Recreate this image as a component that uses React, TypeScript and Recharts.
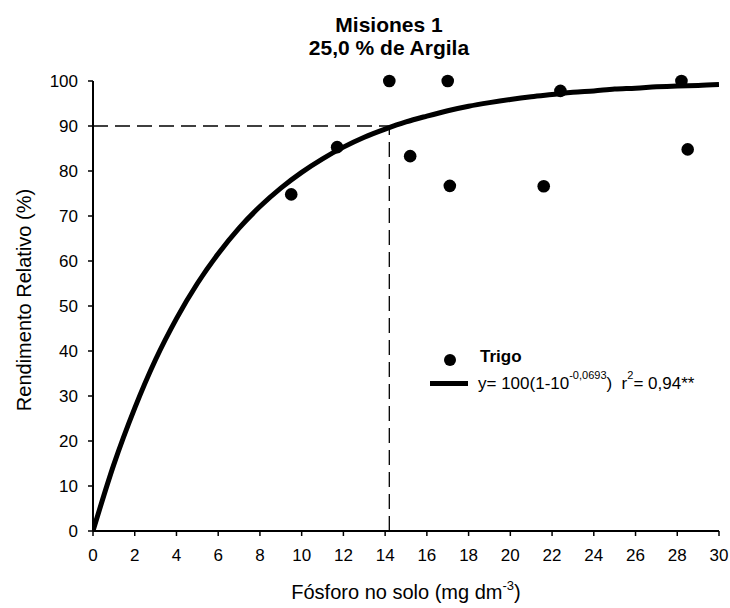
import React from "react";
import {
  ComposedChart,
  Line,
  Scatter,
  XAxis,
  YAxis,
  ReferenceLine,
} from "recharts";

// observed points (Trigo)
const trigoX = [9.5, 11.7, 14.2, 17.0, 15.2, 17.1, 21.6, 22.4, 28.2, 28.5];
const trigoY = [74.8, 85.3, 100, 100, 83.3, 76.7, 76.6, 97.8, 100, 84.8];

// fitted curve
const curveX = [0, 1, 2, 3, 4, 5, 6, 7, 8, 9, 10, 11, 12, 13, 14, 15, 16, 17, 18, 19, 20, 21, 22, 23, 24, 25, 26, 27, 28, 29, 30];
const curveY = [0, 14.8, 27.3, 38.1, 47.2, 55, 61.6, 67.3, 72.1, 76.2, 79.7, 82.7, 85.3, 87.5, 89.3, 90.9, 92.2, 93.4, 94.4, 95.2, 95.9, 96.5, 97, 97.5, 97.8, 98.2, 98.4, 98.7, 98.9, 99, 99.2];

const xTicks = [0, 2, 4, 6, 8, 10, 12, 14, 16, 18, 20, 22, 24, 26, 28, 30];
const yTicks = [0, 10, 20, 30, 40, 50, 60, 70, 80, 90, 100];

const critX = 14.2;
const critY = 90;

const FONT = "'Liberation Sans', Arial, sans-serif";

const trigo = trigoX.map((x, i) => ({ x, y: trigoY[i] }));
const curve = curveX.map((x, i) => ({ x, y: curveY[i] }));

const XLabel = () => (
  <text x={406} y={599} textAnchor="middle" fontSize={20} fontFamily={FONT} fill="#000">
    Fósforo no solo (mg dm
    <tspan fontSize={13} dy={-9}>-3</tspan>
    <tspan dy={9}>)</tspan>
  </text>
);

const YLabel = () => (
  <text
    x={31}
    y={300}
    transform="rotate(-90, 31, 300)"
    textAnchor="middle"
    fontSize={20}
    fontFamily={FONT}
    fill="#000"
  >
    Rendimento Relativo (%)
  </text>
);

function ChartLegend() {
  const sup = { fontSize: 11, verticalAlign: "baseline", position: "relative" as const, top: -10, lineHeight: 0 };
  return (
    <div style={{ position: "absolute", left: 0, top: 0, fontFamily: FONT, fontSize: 17, color: "#000" }}>
      <span
        style={{
          position: "absolute",
          left: 444,
          top: 354,
          width: 12,
          height: 12,
          borderRadius: 6,
          background: "#000",
        }}
      />
      <span style={{ position: "absolute", left: 480, top: 348, lineHeight: "18px", fontWeight: "bold", whiteSpace: "nowrap" }}>
        Trigo
      </span>
      <span
        style={{
          position: "absolute",
          left: 430,
          top: 381,
          width: 38,
          height: 5,
          background: "#000",
        }}
      />
      <span style={{ position: "absolute", left: 478, top: 375, lineHeight: "18px", whiteSpace: "nowrap" }}>
        y= 100(1-10<span style={sup}>-0,0693</span>)&nbsp; r<span style={sup}>2</span>= 0,94**
      </span>
    </div>
  );
}

export default function App() {
  return (
    <div
      style={{
        position: "fixed",
        left: 0,
        top: 0,
        width: 730,
        height: 608,
        background: "#fff",
        fontFamily: FONT,
      }}
    >
      <div
        style={{
          position: "absolute",
          top: 13,
          left: 239,
          width: 300,
          textAlign: "center",
          fontWeight: "bold",
          fontSize: 21,
          lineHeight: "23px",
        }}
      >
        Misiones 1
        <br />
        25,0 % de Argila
      </div>
      <ComposedChart
        width={730}
        height={608}
        margin={{ top: 81, right: 11, left: 28, bottom: 47 }}
      >
        <XAxis
          type="number"
          dataKey="x"
          domain={[0, 30]}
          ticks={xTicks}
          interval={0}
          allowDataOverflow
          tick={{ fontSize: 17, fill: "#000", fontFamily: FONT }}
          tickLine={{ stroke: "#000", strokeWidth: 1.5 }}
          tickSize={5}
          tickMargin={13}
          axisLine={{ stroke: "#000", strokeWidth: 2 }}
          height={30}
          label={{ content: XLabel }}
        />
        <YAxis
          type="number"
          dataKey="y"
          domain={[0, 100]}
          ticks={yTicks}
          interval={0}
          tick={{ fontSize: 17, fill: "#000", fontFamily: FONT }}
          tickLine={{ stroke: "#000", strokeWidth: 1.5 }}
          tickSize={5}
          tickMargin={10}
          axisLine={{ stroke: "#000", strokeWidth: 2 }}
          width={65}
          label={{ content: YLabel }}
        />
        <ReferenceLine
          segment={[
            { x: 0, y: critY },
            { x: critX, y: critY },
          ]}
          stroke="#000"
          strokeWidth={1.3}
          strokeDasharray="15 7"
        />
        <ReferenceLine
          segment={[
            { x: critX, y: 0 },
            { x: critX, y: critY },
          ]}
          stroke="#000"
          strokeWidth={1.3}
          strokeDasharray="15 7"
        />
        <Line
          data={curve}
          dataKey="y"
          type="monotone"
          stroke="#000"
          strokeWidth={5}
          dot={false}
          activeDot={false}
          isAnimationActive={false}
        />
        <Scatter
          data={trigo}
          dataKey="y"
          fill="#000"
          shape={(p: any) => <circle cx={p.cx} cy={p.cy} r={6.3} fill="#000" />}
          isAnimationActive={false}
        />
      </ComposedChart>
      <ChartLegend />
    </div>
  );
}
